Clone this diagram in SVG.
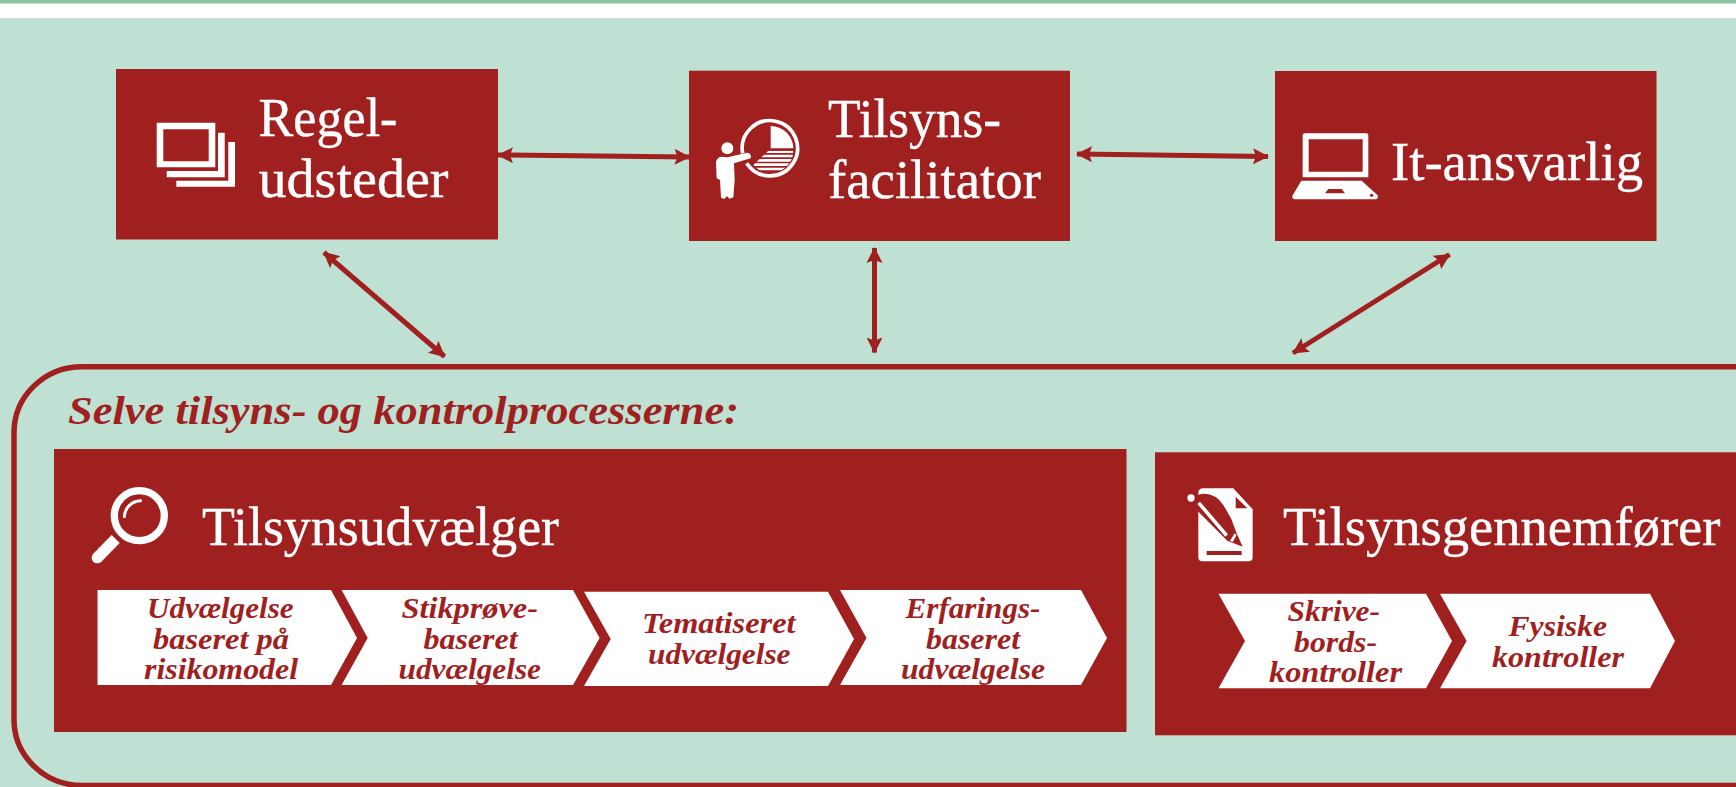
<svg xmlns="http://www.w3.org/2000/svg" width="1736" height="787" viewBox="0 0 1736 787">
<style>
.r{fill:#a01f1f}
.w{fill:#fff}
.t{font-family:"Liberation Serif","Times New Roman",serif;font-size:54px;fill:#fff;stroke:#fff;stroke-width:.4}
.s{font-family:"Liberation Serif","Times New Roman",serif;font-weight:bold;font-style:italic;font-size:29px;fill:#a01f1f}
.h{font-family:"Liberation Serif","Times New Roman",serif;font-weight:bold;font-style:italic;font-size:40px;fill:#a01f1f}
.c{stroke:#a01f1f;stroke-width:5;fill:none;marker-start:url(#ah);marker-end:url(#ah)}
</style>
<defs>
<marker id="ah" markerUnits="userSpaceOnUse" markerWidth="18" markerHeight="18" refX="15" refY="9" orient="auto-start-reverse"><path d="M0 1L16 9L0 17L3 9Z" fill="#a01f1f"/></marker>
<clipPath id="sector"><path d="M205 152H280A68 68 0 0 1 160 195Z"/></clipPath>
</defs>
<rect width="1736" height="787" fill="#fff"/>
<rect width="1736" height="3.500" fill="#8cc29d"/>
<rect y="18" width="1736" height="769" fill="#bfe1d3"/>
<g id="frame"><path d="M1740 366.700H82A68 66 0 0 0 14 433V719A68 66 0 0 0 82 785.500H1740" fill="none" stroke="#a01f1f" stroke-width="5.500"/>
<text class="h" x="68" y="423.500" textLength="671" lengthAdjust="spacingAndGlyphs">Selve tilsyns- og kontrolprocesserne:</text></g>
<g id="connectors">
<path class="c" d="M498 155L689.500 157"/>
<path class="c" d="M1077 154L1268 156.500"/>
<path class="c" d="M324 252.500L444.500 356.500"/>
<path class="c" d="M874.500 248V352.500"/>
<path class="c" d="M1449.500 254.500L1293 353"/>
</g>
<g id="node-regeludsteder">
<rect class="r" x="116" y="69" width="382" height="170.500"/>
<path class="w" fill-rule="evenodd" d="M156.700 122.700H215.300V167.300H156.700ZM163.300 129.300V161.300H208.700V129.300Z"/>
<path class="w" d="M218 132.700H224.700V177.300H166.700V171H218Z"/>
<path class="w" d="M228.300 142H235V186.700H176.300V180.700H228.300Z"/>
<text class="t" x="258.500" y="136" textLength="139" lengthAdjust="spacingAndGlyphs">Regel-</text>
<text class="t" x="258.500" y="196.500" textLength="190" lengthAdjust="spacingAndGlyphs">udsteder</text>
</g>
<g id="node-tilsynsfacilitator">
<rect class="r" x="689" y="70.700" width="381" height="170.300"/>
<g transform="translate(700 100) scale(.3333)">
<path d="M140 190A83 83 0 1 0 128 160" fill="none" stroke="#fff" stroke-width="11"/>
<path class="w" d="M212 78A68 68 0 0 1 280 145H212Z"/>
<g clip-path="url(#sector)" stroke="#fff" stroke-width="8"><path d="M150 155H290M150 168H290M150 181H290M150 194H290M150 207H290"/></g>
<circle class="w" cx="82" cy="145" r="18"/>
<path class="w" d="M48 187Q50 172 65 170L82 172L142 158Q156 162 152 175L102 190L104 240L100 292L88 296L81 288L73 297L63 293L60 240L50 235Z"/>
</g>
<text class="t" x="828" y="136.500" textLength="173" lengthAdjust="spacingAndGlyphs">Tilsyns-</text>
<text class="t" x="828" y="198" textLength="213" lengthAdjust="spacingAndGlyphs">facilitator</text>
</g>
<g id="node-it-ansvarlig">
<rect class="r" x="1275" y="71" width="381.500" height="170"/>
<g transform="translate(1280 120) scale(.3333)">
<path class="w" fill-rule="evenodd" d="M74 40H259Q265 40 265 46V172H68V46Q68 40 74 40ZM86 58V155H248V58Z"/>
<path class="w" d="M64 182H245L293 226Q296 238 285 238H45Q34 238 38 226ZM145 207L135 220H195L185 207Z" fill-rule="evenodd"/>
<circle class="r" cx="275" cy="226" r="5"/>
</g>
<text class="t" x="1391" y="180" textLength="252" lengthAdjust="spacingAndGlyphs">It-ansvarlig</text>
</g>
<g id="node-tilsynsudvaelger">
<rect class="r" x="54" y="449" width="1072.500" height="283"/>
<g transform="translate(70 470) scale(.3333)" fill="none" stroke="#fff">
<circle cx="208" cy="137" r="75" stroke-width="22"/>
<path d="M163 140A50 50 0 0 1 212 92" stroke-width="9" stroke-linecap="round"/>
<path d="M137 207L82 263" stroke-width="34"/>
<circle class="w" cx="82" cy="263" r="17" stroke="none"/>
</g>
<text class="t" x="202" y="544.500" textLength="357" lengthAdjust="spacingAndGlyphs">Tilsynsudvælger</text>
<g id="step-risikomodel"><path class="w" d="M97.500 590H331L357 638L331 685H97.500Z"/>
<text class="s" x="147" y="618" textLength="146.500" lengthAdjust="spacingAndGlyphs">Udvælgelse</text>
<text class="s" x="153" y="649" textLength="136" lengthAdjust="spacingAndGlyphs">baseret på</text>
<text class="s" x="144" y="679" textLength="154" lengthAdjust="spacingAndGlyphs">risikomodel</text></g>
<g id="step-stikproeve"><path class="w" d="M341.600 590H573L599.600 638L573 685H341.600L367.700 638Z"/>
<text class="s" x="401.500" y="618" textLength="136.500" lengthAdjust="spacingAndGlyphs">Stikprøve-</text>
<text class="s" x="423.500" y="649" textLength="94" lengthAdjust="spacingAndGlyphs">baseret</text>
<text class="s" x="398.500" y="679" textLength="142.500" lengthAdjust="spacingAndGlyphs">udvælgelse</text></g>
<g id="step-tematiseret"><path class="w" d="M584 591.700H828L854 639L828 686H584L610.700 639Z"/>
<text class="s" x="642" y="633" textLength="153.500" lengthAdjust="spacingAndGlyphs">Tematiseret</text>
<text class="s" x="648" y="664" textLength="142.500" lengthAdjust="spacingAndGlyphs">udvælgelse</text></g>
<g id="step-erfaring"><path class="w" d="M840 590H1081L1107 638L1081 685H840L866.500 638Z"/>
<text class="s" x="905.500" y="618" textLength="135" lengthAdjust="spacingAndGlyphs">Erfarings-</text>
<text class="s" x="926" y="649" textLength="94" lengthAdjust="spacingAndGlyphs">baseret</text>
<text class="s" x="901" y="679" textLength="144" lengthAdjust="spacingAndGlyphs">udvælgelse</text></g>
</g>
<g id="node-tilsynsgennemfoerer">
<rect class="r" x="1155" y="452.300" width="581" height="283"/>
<g transform="translate(1170 470) scale(.3333)">
<path class="w" d="M85 70Q85 55 100 55H190L248 118V262Q248 274 236 274H97Q85 274 85 262Z"/>
<path class="r" d="M197 80V115H232Z"/>
<rect class="r" x="110" y="243" width="105" height="12"/>
<path class="r" d="M66 100L84 74Q130 62 160 105L183 145L200 190L218 230L172 212L72 112Z"/>
<path class="w" d="M82 102L166 200L174 193L90 95Z"/>
<path class="w" d="M180 212L194 190L200 195L188 216Z"/>
<circle class="w" cx="63" cy="84" r="11"/>
</g>
<text class="t" x="1283" y="544.500" textLength="437.500" lengthAdjust="spacingAndGlyphs">Tilsynsgennemfører</text>
<g id="step-skrivebord"><path class="w" d="M1218.500 593.700H1426L1452 641L1426 688.300H1218.500L1245 641Z"/>
<text class="s" x="1287.500" y="620.500" textLength="92.500" lengthAdjust="spacingAndGlyphs">Skrive-</text>
<text class="s" x="1294" y="651.500" textLength="83" lengthAdjust="spacingAndGlyphs">bords-</text>
<text class="s" x="1269" y="681.500" textLength="133" lengthAdjust="spacingAndGlyphs">kontroller</text></g>
<g id="step-fysiske"><path class="w" d="M1440 593.700H1650L1675 641L1650 688.300H1440L1466.600 641Z"/>
<text class="s" x="1508.500" y="635.500" textLength="98.500" lengthAdjust="spacingAndGlyphs">Fysiske</text>
<text class="s" x="1492" y="666.500" textLength="132" lengthAdjust="spacingAndGlyphs">kontroller</text></g>
</g>
</svg>
